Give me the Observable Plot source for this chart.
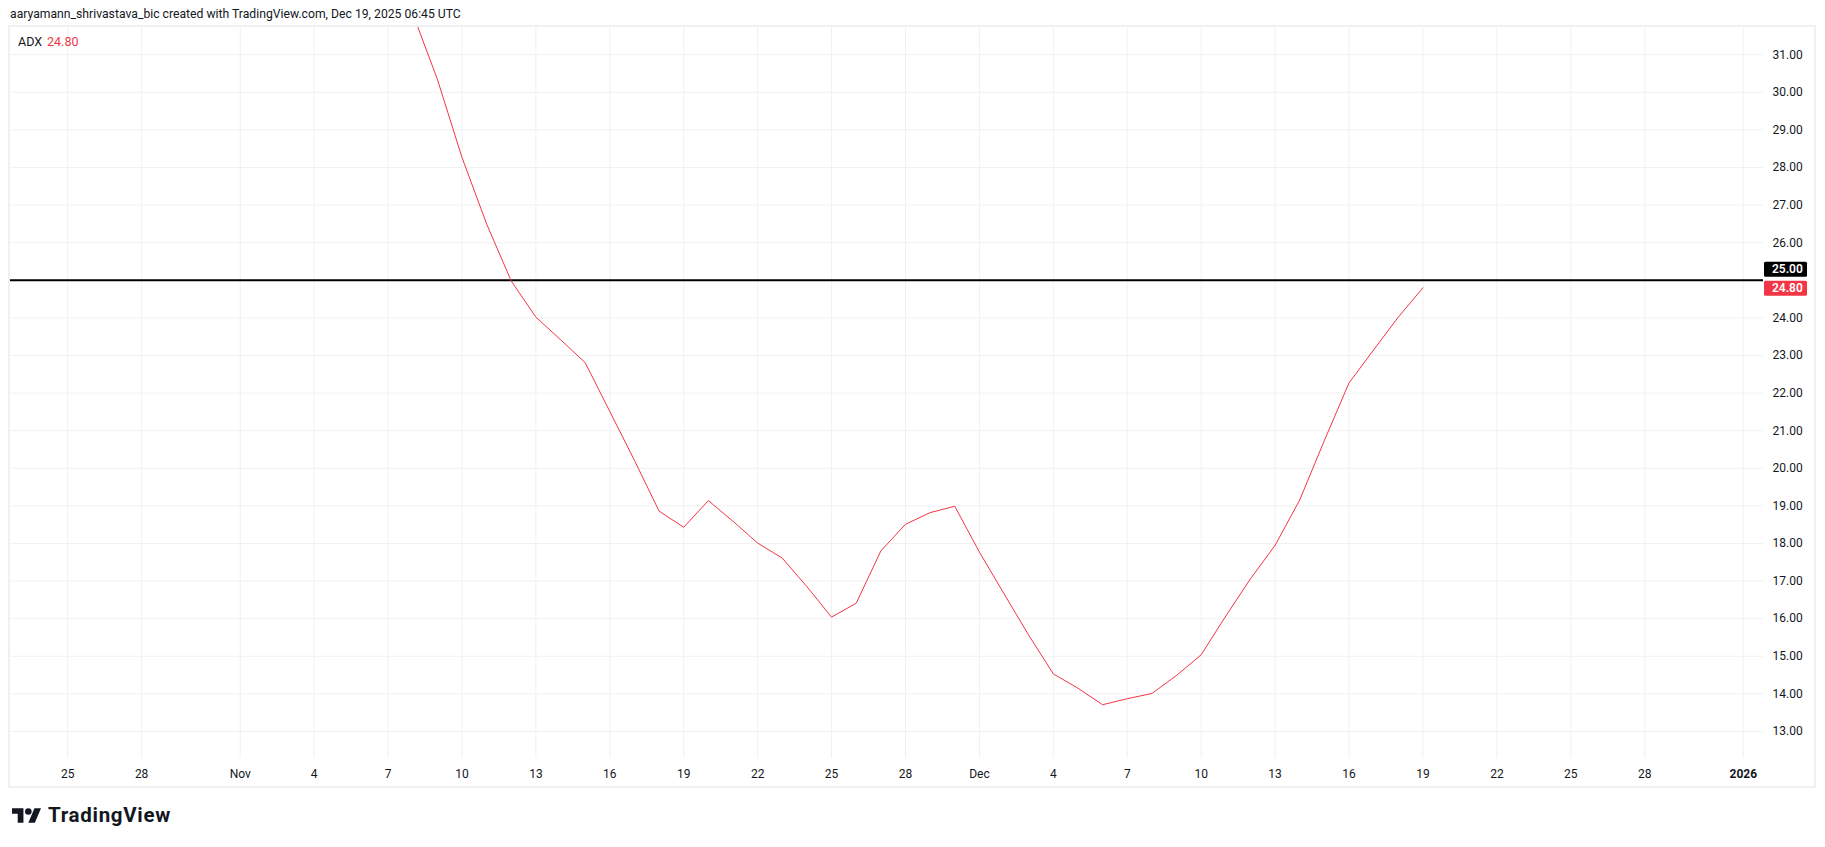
<!DOCTYPE html>
<html>
<head>
<meta charset="utf-8">
<script src="https://cdn.jsdelivr.net/npm/d3@7"></script>
<script src="https://cdn.jsdelivr.net/npm/@observablehq/plot@0.6"></script>
<style>
  html, body { margin: 0; padding: 0; background: #ffffff; width: 1825px; height: 847px; overflow: hidden; font-family: Roboto, "Liberation Sans", sans-serif; color: #131722; }
  #title { position: absolute; left: 10px; top: 6px; font-size: 12.2px; line-height: 17px; white-space: nowrap; }
  #chart { position: absolute; left: 0; top: 26px; }
  #frame { position: absolute; left: 8px; top: 25px; width: 1808px; height: 763px; box-sizing: border-box; border: 2px solid #eef0f3; pointer-events: none; }
  #legend { position: absolute; left: 18px; top: 33px; font-size: 12.5px; line-height: 17px; white-space: nowrap; }
  #legend .v { color: #F23645; margin-left: 5px; }
  #logo { position: absolute; left: 12px; top: 805px; display: flex; align-items: center; }
  #logo span { font-size: 20.5px; font-weight: 700; letter-spacing: 0.7px; margin-left: 7px; color: #131722; line-height: 20px; }
</style>
</head>
<body>
<div id="title">aaryamann_shrivastava_bic created with TradingView.com, Dec 19, 2025 06:45 UTC</div>
<div id="chart"></div>
<div id="frame"></div>
<div id="legend">ADX<span class="v">24.80</span></div>
<div id="logo">
  <svg width="29" height="15" viewBox="0 4 35.5 18"><path fill="#131722" d="M14 22H7V11H0V4h14v18zM28 22h-8l7.5-18h8L28 22z"/><circle fill="#131722" cx="20" cy="8" r="4"/></svg>
  <span>TradingView</span>
</div>
<script>
// ---- data ----
const dates = [
  "2025-11-08","2025-11-09","2025-11-10","2025-11-11","2025-11-12","2025-11-13","2025-11-14",
  "2025-11-15","2025-11-16","2025-11-17","2025-11-18","2025-11-19","2025-11-20","2025-11-21",
  "2025-11-22","2025-11-23","2025-11-24","2025-11-25","2025-11-26","2025-11-27","2025-11-28",
  "2025-11-29","2025-11-30","2025-12-01","2025-12-02","2025-12-03","2025-12-04","2025-12-05",
  "2025-12-06","2025-12-07","2025-12-08","2025-12-09","2025-12-10","2025-12-11","2025-12-12",
  "2025-12-13","2025-12-14","2025-12-15","2025-12-16","2025-12-17","2025-12-18","2025-12-19"
];
const adx = [
  32.10, 30.35, 28.27, 26.50, 24.98, 24.02, 23.42,
  22.81, 21.51, 20.21, 18.86, 18.43, 19.14, 18.59,
  18.01, 17.61, 16.85, 16.04, 16.41, 17.80, 18.51,
  18.82, 18.99, 17.77, 16.66, 15.56, 14.53, 14.15,
  13.71, 13.87, 14.01, 14.49, 15.04, 16.07, 17.06,
  17.95, 19.16, 20.74, 22.27, 23.15, 24.02, 24.80
];
const levelLine = 25;
const lastValue = 24.80;
const tickDates = [
  "2025-10-25","2025-10-28","2025-11-01","2025-11-04","2025-11-07","2025-11-10","2025-11-13",
  "2025-11-16","2025-11-19","2025-11-22","2025-11-25","2025-11-28","2025-12-01","2025-12-04",
  "2025-12-07","2025-12-10","2025-12-13","2025-12-16","2025-12-19","2025-12-22","2025-12-25",
  "2025-12-28","2026-01-01"
];
const tickLabels = [
  "25","28","Nov","4","7","10","13","16","19","22","25","28","Dec","4",
  "7","10","13","16","19","22","25","28","2026"
];
const yTicks = [13,14,15,16,17,18,19,20,21,22,23,24,25,26,27,28,29,30,31];

// ---- build ----
const parse = s => new Date(s + "T00:00:00Z");
const data = dates.map((d, i) => ({date: parse(d), value: adx[i]}));
const ticks = tickDates.map(parse);
const labelMap = new Map(ticks.map((t, i) => [+t, tickLabels[i]]));
const DAY = 86400000;
const t0 = +parse("2025-10-25");
const yLabelTicks = yTicks.filter(t => t !== levelLine); // 25.00 is shown in the level box

const gridColor = "#f0f1f3";
const plot = Plot.plot({
  width: 1825,
  height: 761,
  marginLeft: 9,
  marginRight: 62,
  marginTop: 0,
  marginBottom: 29,
  style: {fontFamily: "Roboto, 'Liberation Sans', sans-serif", fontSize: "12px", color: "#131722", background: "transparent"},
  x: {type: "utc", domain: [new Date(t0 - 2.362 * DAY), new Date(t0 + 68.82 * DAY)]},
  y: {domain: [12.28, 31.75]},
  marks: [
    Plot.gridY(yTicks, {stroke: gridColor, strokeOpacity: 1}),
    Plot.gridX(ticks, {stroke: gridColor, strokeOpacity: 1}),
    Plot.ruleY([levelLine], {stroke: "#000000", strokeWidth: 2}),
    Plot.line(data, {x: "date", y: "value", stroke: "#F23645", strokeWidth: 1, clip: true}),
    Plot.axisY(yLabelTicks, {anchor: "right", tickSize: 0, tickPadding: 9, tickFormat: d => d.toFixed(2), label: null, fill: "#131722"}),
    Plot.axisX(ticks, {anchor: "bottom", tickSize: 0, tickPadding: 11, tickFormat: d => labelMap.get(+d), label: null, fill: "#131722"})
  ]
});
document.getElementById("chart").appendChild(plot);

// bold year label
d3.select(plot).selectAll("text").filter(function() { return this.textContent === "2026"; }).attr("font-weight", "bold");

// price-axis value boxes positioned with the plot's own y scale
const ys = plot.scale("y");
const svg = d3.select(plot);
const boxes = [
  {v: levelLine, cy: ys.apply(levelLine) - 10.5, fill: "#000000"},
  {v: lastValue, cy: ys.apply(lastValue) + 1, fill: "#F23645"}
];
const g = svg.append("g").attr("text-anchor", "start");
boxes.forEach(b => {
  g.append("rect").attr("x", 1764).attr("y", b.cy - 7.5).attr("width", 43).attr("height", 15).attr("rx", 1.5).attr("fill", b.fill);
  g.append("text").attr("x", 1772).attr("y", b.cy).attr("dy", "0.35em").attr("fill", "#ffffff").attr("text-anchor", "start")
    .attr("font-size", 12).attr("font-weight", 600).attr("font-family", "Roboto, sans-serif").text(b.v.toFixed(2));
});
</script>
</body>
</html>
